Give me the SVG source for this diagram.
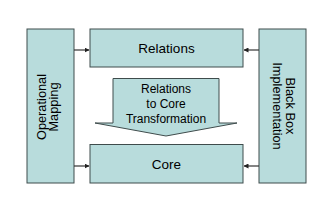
<svg xmlns="http://www.w3.org/2000/svg" width="330" height="216" viewBox="0 0 330 216">
<style>
.box{fill:#b8dcdc;stroke:#3f4c4c;stroke-width:1}
.t{font-family:"Liberation Sans",Arial,sans-serif;fill:#000;text-anchor:middle}
.c{stroke:#333;stroke-width:1.2;fill:none}
</style>
<defs>
<marker id="ah" viewBox="0 0 10 10" refX="9" refY="5" markerWidth="5" markerHeight="5" orient="auto-start-reverse" markerUnits="userSpaceOnUse">
<path d="M0,0 L10,5 L0,10 z" fill="#222"/>
</marker>
</defs>
<rect width="330" height="216" fill="#fff"/>
<g id="operational-mapping">
<rect class="box" x="27" y="29" width="47" height="154"/>
<text class="t" font-size="12.8" transform="translate(46,107) rotate(-90)">Operational</text>
<text class="t" font-size="12.8" transform="translate(58,107) rotate(-90)">Mapping</text>
</g>
<g id="black-box">
<rect class="box" x="259" y="29" width="47" height="154"/>
<text class="t" font-size="12.8" transform="translate(286,106) rotate(90)">Black Box</text>
<text class="t" font-size="12.8" transform="translate(273,106) rotate(90)">Implementation</text>
</g>
<g id="relations">
<rect class="box" x="90" y="29" width="153" height="38"/>
<text class="t" font-size="13.5" x="166.5" y="52.5">Relations</text>
</g>
<g id="core">
<rect class="box" x="90" y="144.5" width="153" height="38.5"/>
<text class="t" font-size="13.5" x="166.5" y="168.5">Core</text>
</g>
<g id="transformation">
<path class="box" d="M113,78.5 H219 V123 H237 L166,136 L95,123 H113 Z"/>
<text class="t" font-size="12" x="166" y="92.5">Relations</text>
<text class="t" font-size="12" x="166" y="107.5">to Core</text>
<text class="t" font-size="12" x="166" y="122.5">Transformation</text>
</g>
<g id="connectors">
<line class="c" x1="74" y1="50" x2="89" y2="50" marker-end="url(#ah)"/>
<line class="c" x1="74" y1="166" x2="89" y2="166" marker-end="url(#ah)"/>
<line class="c" x1="259" y1="50" x2="244" y2="50" marker-end="url(#ah)"/>
<line class="c" x1="259" y1="166" x2="244" y2="166" marker-end="url(#ah)"/>
</g>
</svg>
